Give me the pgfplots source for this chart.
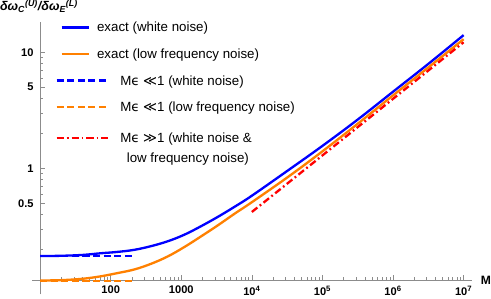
\documentclass[border=0pt]{standalone}
\usepackage{fontspec}
\setmainfont{Liberation Sans}
\newfontfamily\dejavu{DejaVu Sans}
\usepackage{pgfplots}
\pgfplotsset{compat=1.18}
\definecolor{mblue}{rgb}{0,0,1}
\definecolor{morange}{rgb}{1,0.5,0}
\definecolor{mred}{rgb}{1,0,0}
\definecolor{axgray}{gray}{0.55}
\pgfplotsset{
  shortimg/.style={legend image code/.code={\draw[##1] (5pt,4.6pt) -- (32pt,4.6pt);}},
  longimg/.style={legend image code/.code={\draw[##1] (0pt,4.6pt) -- (52pt,4.6pt);}},
  longimgtwo/.style={legend image code/.code={\draw[##1] (0pt,24.6pt) -- (52pt,24.6pt);}},
}
\begin{document}
\begin{tikzpicture}
\begin{axis}[
  scale only axis, width=428pt, height=256pt,
  xmode=log, ymode=log,
  xmin=10, xmax=1.3e7, ymin=0.1083, ymax=18.2,
  clip=false,
  axis x line=bottom, axis y line=left,
  axis line style={draw=axgray, line width=0.6pt, -},
  x axis line style={shorten <=-8pt},
  y axis line style={shorten <=-14pt},
  tick align=inside,
  major tick length=5pt, minor tick length=3pt,
  every tick/.style={axgray, line width=0.5pt},
  xtick={100,1000,1e4,1e5,1e6,1e7},
  xticklabels={100,1000,10\textsuperscript{4},10\textsuperscript{5},10\textsuperscript{6},10\textsuperscript{7}},
  minor xtick={20,30,40,50,60,70,80,90,200,300,400,500,600,700,800,900,2000,3000,4000,5000,6000,7000,8000,9000,2e4,3e4,4e4,5e4,6e4,7e4,8e4,9e4,2e5,3e5,4e5,5e5,6e5,7e5,8e5,9e5,2e6,3e6,4e6,5e6,6e6,7e6,8e6,9e6},
  ytick={0.5,1,5,10},
  yticklabels={0.5,1,5,10},
  minor ytick={0.2,0.3,0.4,0.6,0.7,0.8,0.9,2,3,4,6,7,8,9},
  tick label style={font=\fontsize{11}{13}\selectfont\bfseries, black},
  xticklabel style={yshift=-2pt},
  yticklabel style={xshift=-3pt},
  xlabel={\textbf{M}},
  every axis x label/.style={at={(axis description cs:1,0)}, anchor=west, xshift=9pt, inner sep=0pt, font=\fontsize{12}{14}\selectfont},
  ylabel={\bfseries\itshape δω\textsubscript{C}\textsuperscript{(U)}/δω\textsubscript{E}\textsuperscript{(L)}},
  every axis y label/.style={at={(axis description cs:0,1)}, anchor=south west, xshift=-40pt, yshift=9pt, inner sep=0pt, font=\fontsize{12.5}{14}\selectfont},
  every axis legend/.style={at={(axis description cs:0,1)}, anchor=north west, xshift=15pt, yshift=0pt, draw=none, fill=none, inner sep=0pt, row sep=14pt, column sep=10pt, cells={anchor=base west}, nodes={inner sep=0pt, align=left, font=\fontsize{13.2}{20}\selectfont}},
]
\addplot[mblue, line width=2.3pt, smooth, tension=0.6, shortimg]
  coordinates {(10,0.175) (20,0.176) (40,0.179) (72,0.185) (124,0.190) (215,0.198) (372,0.213) (646,0.235) (1114,0.268) (1932,0.318) (3342,0.383) (5768,0.468) (1e4,0.58) (3.34e4,0.97) (1e5,1.56) (3.16e5,2.63) (1e6,4.57) (3.16e6,7.94) (1e7,14.06)};
\addlegendentry{\hspace*{-23pt}exact (white noise)}
\addplot[morange, line width=2.3pt, smooth, tension=0.6, shortimg]
  coordinates {(10,0.1077) (20,0.1085) (40,0.1115) (72,0.117) (124,0.1247) (215,0.134) (372,0.150) (646,0.174) (1114,0.210) (1932,0.260) (3342,0.324) (5768,0.408) (1e4,0.51) (3.34e4,0.852) (1e5,1.40) (3.16e5,2.42) (1e6,4.25) (3.16e6,7.40) (1e7,12.97)};
\addlegendentry{\hspace*{-23pt}exact (low frequency noise)}
\addplot[mblue, line width=2.3pt, dash pattern=on 7pt off 3.5pt, longimg]
  coordinates {(10,0.1745) (200,0.1745)};
\addlegendentry{M{\dejavu ϵ} {\dejavu ≪}1 (white noise)}
\addplot[morange, line width=2.3pt, dash pattern=on 7pt off 3.5pt, longimg]
  coordinates {(10,0.1065) (200,0.1065)};
\addlegendentry{M{\dejavu ϵ} {\dejavu ≪}1 (low frequency noise)}
\addplot[mred, line width=2.3pt, dash pattern=on 7pt off 3pt on 1.8pt off 3pt, longimgtwo]
  coordinates {(1e4,0.42) (1e7,12.2)};
\addlegendentry{\rule{0pt}{14pt}M{\dejavu ϵ} {\dejavu ≫}1 (white noise \&\\\hspace*{6.5pt}low frequency noise)}
\end{axis}
\end{tikzpicture}
\end{document}
